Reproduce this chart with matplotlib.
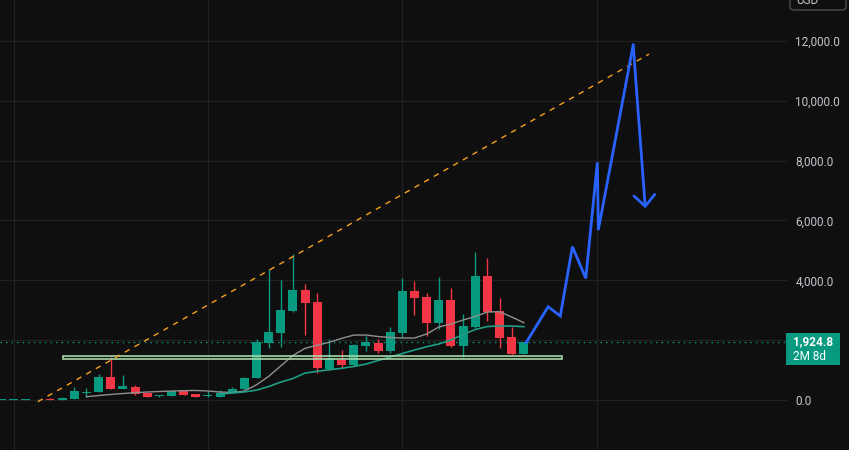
import numpy as np
import matplotlib.pyplot as plt
from matplotlib.patches import Rectangle, FancyBboxPatch
from matplotlib.ticker import FuncFormatter

# 数据: 每根K线的开/高/低/收
opens = [5, 12, 15, 18, 45, 12, 45, 240, 267, 779, 378, 445, 234, 130, 145, 310, 200, 125, 110, 234,
         358, 725, 1915, 2249, 2985, 3676, 3285, 1026, 1337, 1170, 1815, 1915, 1648, 2249, 3643, 3452,
         2584, 3342, 1805, 2450, 4144, 2975, 2096, 1537]
highs = [15, 18, 20, 25, 55, 90, 440, 390, 869, 1447, 836, 500, 240, 180, 310, 330, 210, 300, 330, 435,
         780, 2039, 4378, 4011, 4880, 3877, 3566, 2029, 1671, 1872, 2139, 2029, 2430, 4067, 3977, 3586,
         4121, 3733, 2874, 4947, 4746, 3399, 2450, 1925]
lows = [0, 5, 8, 10, 10, 10, 40, 110, 260, 378, 370, 180, 105, 100, 140, 175, 95, 90, 105, 230,
        350, 720, 1738, 1771, 2950, 2172, 912, 1000, 1080, 1150, 1648, 1561, 1561, 2116, 2831, 2139,
        2363, 1781, 1427, 2396, 2650, 1728, 1514, 1537]
closes = [12, 15, 18, 20, 12, 80, 300, 250, 779, 378, 468, 200, 110, 150, 300, 180, 100, 135, 245, 368,
          725, 1948, 2283, 3008, 3676, 3252, 1059, 1360, 1170, 1828, 1938, 1648, 2263, 3643, 3419, 2584,
          3342, 1805, 2473, 4144, 2951, 2082, 1537, 1925]

# 两条均线 (从第7根 / 第18根开始)
ma_slow_start = 7
ma_slow = [110, 150, 185, 217, 245, 267, 285, 300, 312, 318, 300, 267, 250, 300, 510, 790, 1140, 1490,
           1730, 1830, 1930, 2060, 2170, 2172, 2122, 2089, 2072, 2072, 2206, 2440, 2540, 2674, 2791,
           2941, 2951, 2774, 2584]
ma_fast_start = 18
ma_fast = [200, 234, 270, 330, 450, 600, 720, 900, 960, 1010, 1060, 1120, 1200, 1320, 1437, 1554, 1671,
           1781, 1872, 2005, 2190, 2356, 2456, 2473, 2473, 2450]

# 预测的蓝线
proj_x = [43.2, 45.0, 46.0, 47.0, 48.1, 49.05, 49.13, 52.0, 53.0]
proj_y = [1925, 3118, 2807, 5124, 4067, 7944, 5682, 11865, 6407]

# 橙色趋势线, 绿色区间框
trend_x = [3.0, 53.3]
trend_y = [-57, 11560]
zone_x = [5.07, 46.1]
zone_y = [1354, 1470]
last_price = 1924.8
price_ticks = [0, 4000, 6000, 8000, 10000, 12000]  # 2000 被价格标签挡住

bg = '#0f0f0f'
up_c = '#089981'
down_c = '#f23645'
txt_c = '#c3c6cd'

plt.rcParams['font.family'] = ['Roboto', 'DejaVu Sans']

fig = plt.figure(figsize=(8.49, 4.5), dpi=100, facecolor=bg)
ax = fig.add_axes([0, 0, 787 / 849, 1])
ax.set_facecolor(bg)

# 网格
for v in range(0, 14000, 2000):
    ax.axhline(v, color='#222222', lw=0.8, zorder=0)
for i in [1, 17, 33, 49]:
    ax.axvline(i, color='#222222', lw=0.8, zorder=0)

# K线
idx = np.arange(len(opens))
o = np.array(opens)
c = np.array(closes)
colors = [up_c if cc >= oo else down_c for oo, cc in zip(o, c)]
ax.vlines(idx, lows, highs, colors=colors, lw=1, zorder=3)
ax.bar(idx, np.maximum(np.abs(c - o), 30), bottom=np.minimum(o, c), width=0.74,
       color=colors, zorder=4)

# 均线
ax.plot(np.arange(ma_slow_start, ma_slow_start + len(ma_slow)), ma_slow, color='#8f8f8f', lw=1, zorder=5)
ax.plot(np.arange(ma_fast_start, ma_fast_start + len(ma_fast)), ma_fast, color='#1f9e86', lw=1.2, zorder=5)

# 区间框和趋势线
ax.add_patch(Rectangle((zone_x[0], zone_y[0]), zone_x[1] - zone_x[0], zone_y[1] - zone_y[0],
                       fc=(0.6, 0.85, 0.6, 0.08), ec='#a5d6a7', lw=1.2, zorder=6))
ax.plot(trend_x, trend_y, color='#f7a21b', lw=1, ls=(0, (4, 4)), zorder=6)
ax.axhline(last_price, color=up_c, lw=1, ls=(0, (1, 3)), zorder=2)

# 蓝色预测线 + 箭头
ax.plot(proj_x[:-1], proj_y[:-1], color='#2962ff', lw=2, zorder=7, solid_joinstyle='miter')
ax.annotate('', xy=(proj_x[-1], proj_y[-1]), xytext=(proj_x[-2], proj_y[-2]),
            arrowprops=dict(arrowstyle='->,head_length=0.8,head_width=0.75', color='#2962ff',
                            lw=2, shrinkA=0, shrinkB=0), zorder=7)

ax.set_xlim(-0.115, 64.66)
ax.set_ylim(-1671, 13369)
ax.set_yticks(price_ticks)
ax.yaxis.set_major_formatter(FuncFormatter(lambda v, p: '{:,.1f}'.format(v)))
ax.yaxis.tick_right()
ax.tick_params(axis='y', length=0, pad=6, labelsize=8.5, labelcolor=txt_c)
ax.set_xticks([])
for s in ax.spines.values():
    s.set_visible(False)

# 右侧价格标签
fig.patches.append(Rectangle((786 / 849, 1 - 365 / 450), 54 / 849, 32 / 450,
                             transform=fig.transFigure, fc=up_c, ec='none'))
fig.text(793 / 849, 1 - 342 / 450, '{:,.1f}'.format(last_price), color='white',
         fontsize=8.5, fontweight='bold', va='center', ha='left')
fig.text(793 / 849, 1 - 356 / 450, '2M 8d', color='white', fontsize=8.5, va='center', ha='left')

# 顶部 USD 按钮 (被裁掉一半)
fig.patches.append(FancyBboxPatch((790 / 849, 1 - 10 / 450), 56 / 849, 30 / 450,
                                  boxstyle='round,pad=0,rounding_size=0.006', transform=fig.transFigure,
                                  fc=bg, ec='#4a4d55', lw=1))
fig.text(796 / 849, 1 - 1 / 450, 'USD', color=txt_c, fontsize=8.5, va='center', ha='left')

fig.savefig('out.png', dpi=100, facecolor=bg)
